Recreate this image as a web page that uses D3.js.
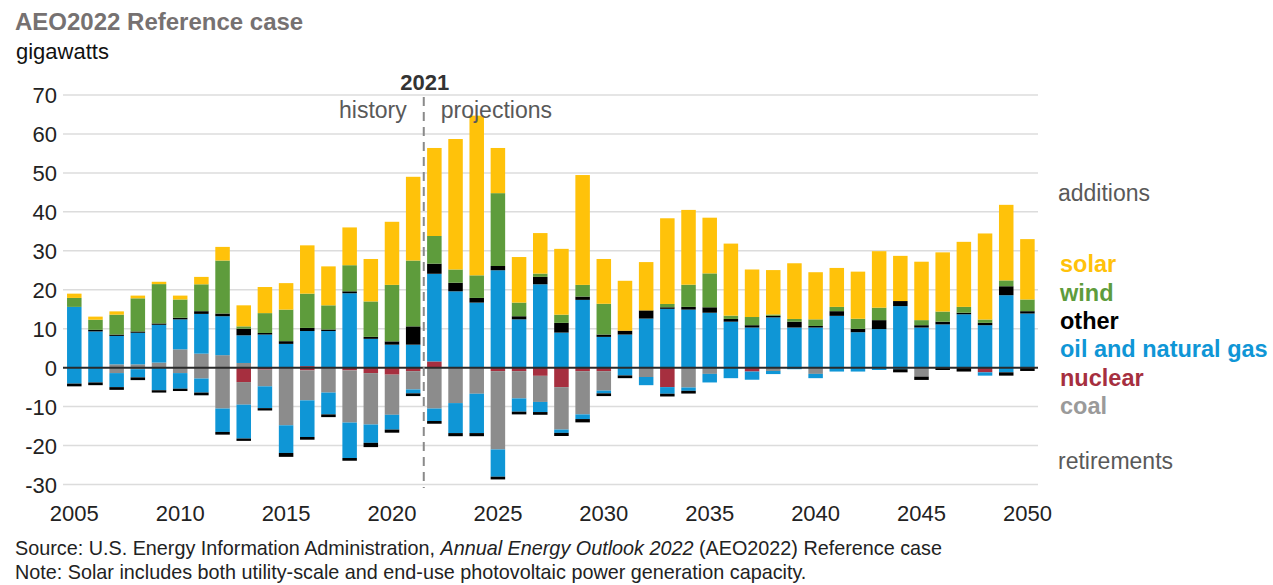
<!DOCTYPE html>
<html>
<head>
<meta charset="utf-8">
<script src="https://cdn.jsdelivr.net/npm/d3@7"></script>
<style>
  html, body { margin: 0; padding: 0; background: #ffffff; }
  svg { display: block; font-family: "Liberation Sans", Arial, sans-serif; }
</style>
</head>
<body>
<svg id="chart" width="1273" height="585"></svg>
<script>
// ---------- data (gigawatts) ----------
const years = [2005,2006,2007,2008,2009,2010,2011,2012,2013,2014,
               2015,2016,2017,2018,2019,2020,2021,2022,2023,2024,
               2025,2026,2027,2028,2029,2030,2031,2032,2033,2034,
               2035,2036,2037,2038,2039,2040,2041,2042,2043,2044,
               2045,2046,2047,2048,2049,2050];

// additions
const solarAdd   = [1.1,0.8,0.85,0.7,0.6,1.0,1.9,3.5,5.4,6.7,
                    6.8,12.4,10.0,9.7,10.9,16.2,21.5,22.6,33.5,41.0,
                    11.6,11.7,10.4,16.9,28.2,11.5,12.8,12.4,22.0,19.2,
                    14.3,18.5,12.2,11.4,14.3,12.1,10.0,12.1,14.5,11.6,
                    15.0,15.2,16.7,22.1,19.4,15.5];
const windAdd    = [2.3,2.6,5.1,8.5,10.1,4.7,6.9,13.6,0.6,5.1,
                    8.1,8.8,6.2,6.7,9.1,14.5,16.9,7.1,3.4,5.8,
                    18.7,3.5,0.85,2.1,3.0,7.9,0,0,0.85,5.7,
                    8.7,0.85,2.1,0.35,0.7,1.7,1.1,2.6,3.2,0,
                    1.3,2.6,1.5,0.85,1.5,3.0];
const otherAdd   = [0,0.4,0.35,0.35,0.35,0.4,0.7,0.7,1.7,0.4,
                    0.7,0.8,0.4,0.5,0.5,0.85,4.7,2.6,2.2,1.2,
                    1.1,0.8,1.9,2.5,0.85,0.6,1.0,2.1,0.4,0.7,
                    1.4,0.7,0.6,0.4,1.5,0.4,1.2,0.85,2.3,1.3,
                    0.6,0.7,0.4,0.6,2.3,0.6];
const gasAdd     = [15.6,9.3,7.3,8.1,9.7,7.7,10.2,10.0,7.1,8.5,
                    6.1,9.0,9.4,19.1,7.4,5.9,5.9,22.5,19.6,16.7,
                    25.0,12.4,21.4,9.0,17.4,7.9,8.5,12.6,15.1,14.9,
                    14.1,11.8,10.3,12.9,10.3,10.3,13.3,9.1,9.9,15.8,
                    10.3,11.1,13.7,10.9,18.6,13.9];
const nuclearAdd = [0,0,0,0,0,0,0,0,0,0,
                    0,0.4,0,0,0,0,0,1.6,0,0,
                    0,0,0,0,0,0,0,0,0,0,
                    0,0,0,0,0,0,0,0,0,0,
                    0,0,0,0,0,0];
const coalAdd    = [0,0,0.85,0.85,1.3,4.7,3.6,3.2,1.2,0,
                    0,0,0,0,0,0,0,0,0,0,
                    0,0,0,0,0,0,0,0,0,0,
                    0,0,0,0,0,0,0,0,0,0,
                    0,0,0,0,0,0];

// retirements (negative)
const nuclearRet = [0,0,0,0,0,0,0,0,-3.7,-0.5,
                    0,-0.7,0,-0.7,-1.4,-1.8,-0.9,0,0,0,
                    -0.9,-0.9,-2.1,-5.0,-0.9,-0.9,0,0,-5.0,0,
                    0,0,-1.0,0,0,0,0,0,0,0,
                    0,0,0,-1.2,0,0];
const coalRet    = [0,0,-1.4,-0.4,0,-1.4,-2.8,-10.5,-5.8,-4.3,
                    -14.8,-7.7,-6.4,-13.4,-13.2,-10.3,-4.7,-10.5,-9.1,-6.7,
                    -20.1,-7.0,-6.7,-10.9,-11.1,-5.0,0,-2.4,0,-5.1,
                    -1.6,0,0,-0.85,0,-1.6,0,0,0,0,
                    -2.3,0,0,0,0,0];
const gasRet     = [-4.1,-3.8,-3.6,-2.1,-5.8,-4.0,-3.6,-6.0,-8.7,-5.6,
                    -7.1,-9.4,-5.6,-9.1,-4.7,-3.8,-1.0,-3.2,-7.7,-10.1,
                    -7.0,-3.4,-2.6,-0.85,-1.2,-0.7,-2.0,-2.1,-1.7,-0.85,
                    -2.2,-2.7,-2.1,-0.8,-0.4,-1.1,-1.0,-1.0,-0.6,-0.4,
                    0,0,0,-0.85,-1.2,0];
const otherRet   = [-0.7,-0.7,-0.7,-0.7,-0.6,-0.6,-0.7,-0.7,-0.6,-0.6,
                    -1.0,-0.7,-0.7,-0.7,-1.1,-0.8,-0.7,-0.7,-0.8,-0.8,
                    -0.7,-0.7,-0.7,-0.8,-0.85,-0.7,-0.7,0,-0.7,-0.7,
                    0,0,0,0,0,0,0,0,0,-0.8,
                    -0.85,-0.6,-1.0,0,-0.85,-0.85];

const yTicks = [70,60,50,40,30,20,10,0,-10,-20,-30];
const xTickYears = [2005,2010,2015,2020,2025,2030,2035,2040,2045,2050];

const legendItems = [
  {key: "solar",   label: "solar"},
  {key: "wind",    label: "wind"},
  {key: "other",   label: "other"},
  {key: "gas",     label: "oil and natural gas"},
  {key: "nuclear", label: "nuclear"},
  {key: "coal",    label: "coal"}
];

// ---------- styling ----------
const colors = {
  solar: "#ffc20a",
  wind: "#5e9c3c",
  other: "#000000",
  gas: "#0f96d6",
  nuclear: "#a62f3f",
  coal: "#8c8c8c"
};

// ---------- build tables ----------
const addRows = years.map((yr, i) => ({
  year: yr, nuclear: nuclearAdd[i], coal: coalAdd[i], gas: gasAdd[i],
  other: otherAdd[i], wind: windAdd[i], solar: solarAdd[i]
}));
const retRows = years.map((yr, i) => ({
  year: yr, nuclear: nuclearRet[i], coal: coalRet[i], gas: gasRet[i], other: otherRet[i]
}));

const addKeys = ["nuclear","coal","gas","other","wind","solar"];
const retKeys = ["nuclear","coal","gas","other"];

const stackAdd = d3.stack().keys(addKeys).offset(d3.stackOffsetDiverging)(addRows);
const stackRet = d3.stack().keys(retKeys).offset(d3.stackOffsetDiverging)(retRows);

// ---------- scales ----------
const svg = d3.select("#chart");
const left = 63.7, right = 1038;
const x = d3.scaleBand().domain(years).range([left, right])
  .paddingInner(0.315).paddingOuter(0.1575);
const y = d3.scaleLinear().domain([-30, 70]).range([484.5, 95]);

// gridlines
svg.append("g").selectAll("line").data(yTicks.filter(d => d !== 0)).join("line")
  .attr("x1", 63).attr("x2", 1038)
  .attr("y1", d => y(d)).attr("y2", d => y(d))
  .attr("stroke", "#dcdcdc").attr("stroke-width", 1.5);

// y axis labels via d3 axis (plain hyphen minus as in the reference)
const yAxis = svg.append("g").attr("transform", "translate(57,0)")
  .call(d3.axisLeft(y).tickValues(yTicks).tickSize(0).tickPadding(0).tickFormat(d => String(d)));
yAxis.select(".domain").remove();
yAxis.selectAll("text").attr("font-size", 22).attr("fill", "#222")
  .attr("font-family", "'Liberation Sans', Arial, sans-serif").attr("dy", "0.36em");

// bars
function drawStack(series) {
  svg.append("g").selectAll("g").data(series).join("g")
    .attr("fill", d => colors[d.key])
    .selectAll("rect").data(d => d).join("rect")
    .attr("x", d => x(d.data.year))
    .attr("width", x.bandwidth())
    .attr("y", d => y(Math.max(d[0], d[1])))
    .attr("height", d => Math.abs(y(d[0]) - y(d[1])));
}
drawStack(stackAdd);
drawStack(stackRet);

// zero line
svg.append("line").attr("x1", 63).attr("x2", 1038)
  .attr("y1", y(0)).attr("y2", y(0))
  .attr("stroke", "#2a2a2a").attr("stroke-width", 2);

// x axis labels
const xAxis = svg.append("g").attr("transform", "translate(0,505)")
  .call(d3.axisBottom(x).tickValues(xTickYears).tickSize(0).tickPadding(0));
xAxis.select(".domain").remove();
xAxis.selectAll("text").attr("font-size", 22).attr("fill", "#222")
  .attr("font-family", "'Liberation Sans', Arial, sans-serif")
  .attr("dy", "0.71em");

// history/projections divider
const divX = (x(2021) + x.bandwidth() / 2 + x(2022) + x.bandwidth() / 2) / 2;
svg.append("line").attr("x1", divX).attr("x2", divX)
  .attr("y1", 97).attr("y2", 488)
  .attr("stroke", "#8a8a8a").attr("stroke-width", 2)
  .attr("stroke-dasharray", "9,6");

svg.append("text").attr("x", divX + 1).attr("y", 90)
  .attr("text-anchor", "middle").attr("font-size", 22).attr("font-weight", "bold")
  .attr("fill", "#333").text("2021");
svg.append("text").attr("x", divX - 17).attr("y", 118)
  .attr("text-anchor", "end").attr("font-size", 23).attr("fill", "#595959").text("history");
svg.append("text").attr("x", divX + 17).attr("y", 118)
  .attr("text-anchor", "start").attr("font-size", 23).attr("fill", "#595959").text("projections");

// title
svg.append("text").attr("x", 15).attr("y", 30)
  .attr("font-size", 24).attr("font-weight", "bold").attr("fill", "#767171")
  .text("AEO2022 Reference case");
svg.append("text").attr("x", 16).attr("y", 59)
  .attr("font-size", 22).attr("fill", "#111").text("gigawatts");

// legend
svg.append("text").attr("x", 1058).attr("y", 201)
  .attr("font-size", 23).attr("fill", "#595959").text("additions");
svg.append("text").attr("x", 1058).attr("y", 469)
  .attr("font-size", 23).attr("fill", "#595959").text("retirements");
const legendY = [272, 300.5, 328.5, 357, 386, 414];
svg.append("g").selectAll("text").data(legendItems).join("text")
  .attr("x", 1060).attr("y", (d, i) => legendY[i])
  .attr("font-size", 23.5).attr("font-weight", "bold")
  .attr("fill", d => d.key === "coal" ? "#9a9a9a" : colors[d.key])
  .text(d => d.label);

// source / note
const src = svg.append("text").attr("x", 15).attr("y", 555)
  .attr("font-size", 19.8).attr("fill", "#222");
src.append("tspan").text("Source: U.S. Energy Information Administration, ");
src.append("tspan").attr("font-style", "italic").text("Annual Energy Outlook 2022");
src.append("tspan").text(" (AEO2022) Reference case");
svg.append("text").attr("x", 15).attr("y", 579)
  .attr("font-size", 19.8).attr("fill", "#222")
  .text("Note: Solar includes both utility-scale and end-use photovoltaic power generation capacity.");
</script>
</body>
</html>
